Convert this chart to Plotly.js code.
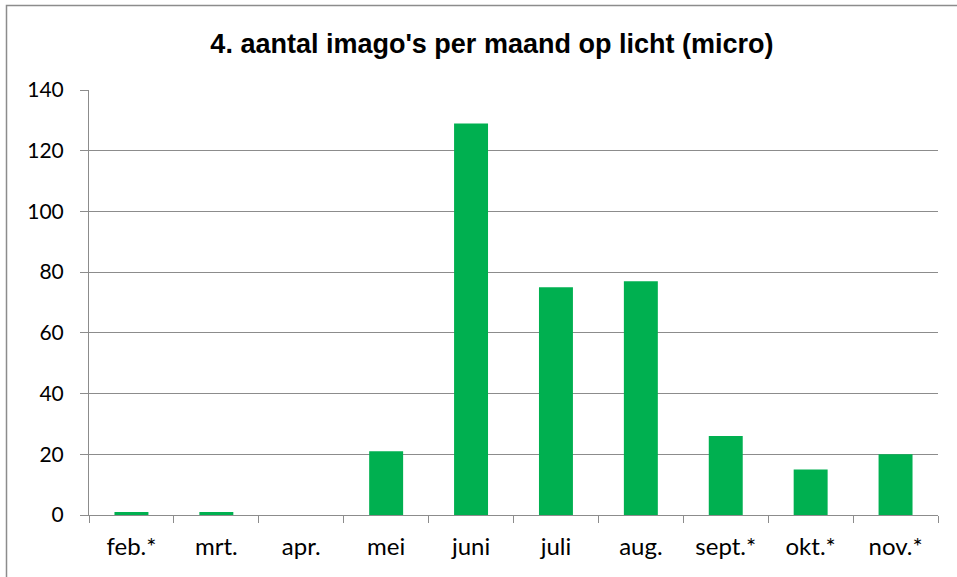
<!DOCTYPE html>
<html>
<head>
<meta charset="utf-8">
<script src="https://cdn.plot.ly/plotly-3.0.1.min.js"></script>
<style>
html,body{margin:0;padding:0;background:#fff;overflow:hidden;}
#chart{width:957px;height:577px;}
</style>
</head>
<body>
<div id="chart"></div>
<script>
const months = ["feb.*","mrt.","apr.","mei","juni","juli","aug.","sept.*","okt.*","nov.*"];
const counts = [1,1,0,21,129,75,77,26,15,20];
const yTicks = [0,20,40,60,80,100,120,140];
const titleText = "4. aantal imago's per maand op licht (micro)";

const trace = {
  type: "bar",
  x: months,
  y: counts,
  marker: {color: "#00B050"},
  hoverinfo: "x+y"
};

const layout = {
  width: 957,
  height: 577,
  margin: {l: 89, r: 19, t: 90, b: 62},
  paper_bgcolor: "#ffffff",
  plot_bgcolor: "#ffffff",
  bargap: 0.6,
  showlegend: false,
  title: {
    text: "<b>" + titleText + "</b>",
    font: {family: "Liberation Sans, Arial, sans-serif", size: 27, color: "#000"},
    x: 0.514, xanchor: "center",
    y: 0.925, yanchor: "middle"
  },
  xaxis: {
    type: "category",
    showline: true,
    linecolor: "#8c8c8c",
    linewidth: 1,
    ticks: "outside",
    tickson: "boundaries",
    ticklen: 7,
    tickcolor: "#8c8c8c",
    ticklabelstandoff: 10,
    tickfont: {family: "Lato, Carlito, sans-serif", size: 24, color: "#000"},
    showgrid: false,
    zeroline: false,
    fixedrange: true
  },
  yaxis: {
    range: [0, 140],
    tickvals: yTicks,
    ticktext: yTicks.map(String),
    showline: true,
    linecolor: "#8c8c8c",
    linewidth: 1,
    ticks: "outside",
    ticklen: 8,
    tickcolor: "#8c8c8c",
    ticklabelstandoff: 12,
    tickfont: {family: "Lato, Carlito, sans-serif", size: 21, color: "#000"},
    showgrid: true,
    gridcolor: "#8c8c8c",
    gridwidth: 1,
    zeroline: false,
    fixedrange: true
  },
  shapes: [{
    type: "rect",
    xref: "paper", yref: "paper",
    x0: (6.5 - 89) / 849, x1: (1100 - 89) / 849,
    y0: (577 - 700 - 62) / 425, y1: (577 - 5.5 - 62) / 425,
    line: {color: "#8c8c8c", width: 1.5},
    fillcolor: "rgba(0,0,0,0)",
    layer: "below"
  }]
};

Plotly.newPlot("chart", [trace], layout, {displayModeBar: false, staticPlot: true});
</script>
</body>
</html>
